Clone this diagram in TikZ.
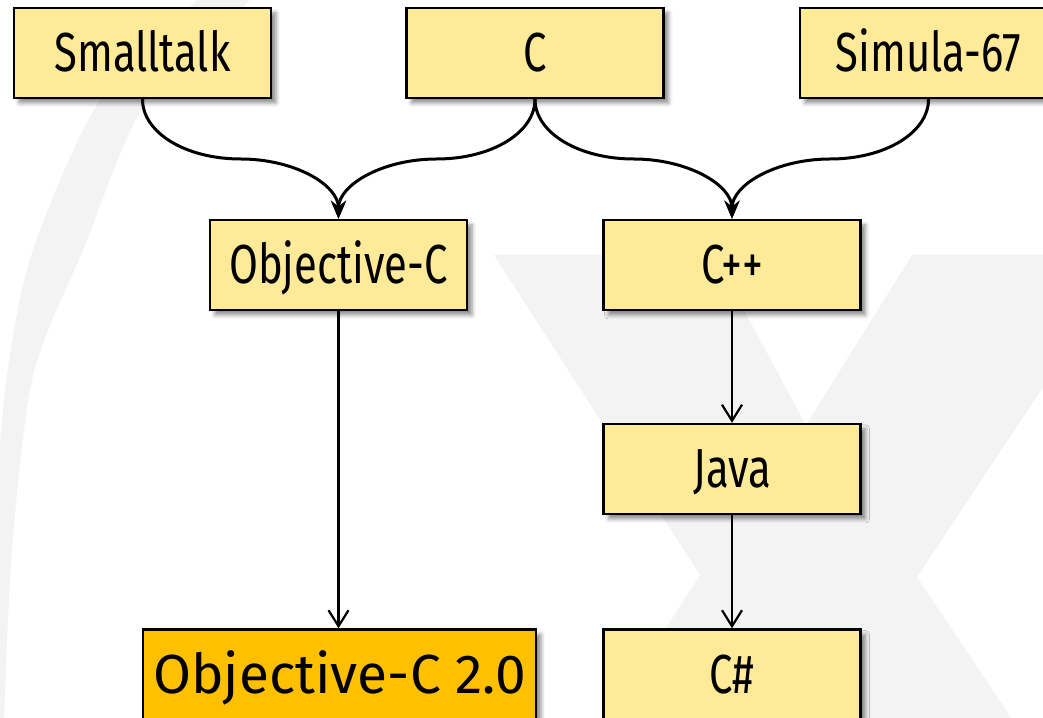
\documentclass[tikz,border=0pt]{standalone}
\usepackage{fontspec}
\setmainfont{Fira Sans}
\newfontfamily\narrowfont[FakeStretch=0.76]{Fira Sans}
\usetikzlibrary{arrows.meta,calc,shadows.blur}

\definecolor{boxyellow}{RGB}{255,234,153}
\definecolor{boxorange}{RGB}{255,192,0}
\definecolor{watermark}{RGB}{243,243,243}

\tikzset{
  langbox/.style={draw=black, line width=2.4bp, fill=boxyellow,
    minimum width=257bp, minimum height=90bp, inner sep=0pt,
    text height=38bp, text depth=0bp,
    font=\narrowfont\fontsize{55bp}{60bp}\selectfont,
    blur shadow={shadow xshift=5bp, shadow yshift=-5bp,
      shadow blur radius=4bp, shadow opacity=45}},
  newbox/.style={langbox, fill=boxorange, minimum width=393bp,
    font=\fontsize{55bp}{60bp}\selectfont},
  merge/.style={line width=3bp, -{Stealth[length=18bp,width=15bp,inset=6bp]}},
  follow/.style={line width=2.2bp, -{Straight Barb[length=16bp,width=20bp]}},
}

\begin{document}
\begin{tikzpicture}[x=1bp,y=1bp]
\useasboundingbox (0,0) rectangle (1043,718);
\clip (0,0) rectangle (1043,718);

% faint logo in the background: a large X and the arc of a ring
\fill[watermark] (494,463) -- (714,463) -- (806,293) -- (912,463) -- (1131,463)
  -- (917,141) -- (1131,-179) -- (912,-179) -- (806,-9) -- (714,-179)
  -- (494,-179) -- (700,143) -- cycle;
\fill[watermark] plot[smooth] coordinates {(207,730) (197,718) (100,618) (33,468) (7,342) (-8,168) (-15,-5)}
  -- plot[smooth] coordinates {(4,-5) (12,168) (33,342) (83,468) (147,618) (250,718) (262,730)} -- cycle;

% languages
\node[langbox] (st)   at (142.5,665) {Smalltalk};
\node[langbox] (c)    at (535,665)   {C};
\node[langbox] (sim)  at (928.5,665) {Simula-67};
\node[langbox] (objc) at (338.5,453) {Objective-C};
\node[langbox] (cpp)  at (732,453)   {C++};
\node[langbox] (java) at (732,249)   {Java};
\node[langbox] (cs)   at (732,43.5)  {C\#};
\node[newbox]  (objc2) at (339.5,43.5) {Objective-C 2.0};

% two parents merging into one child
\draw[merge] (st.south) .. controls +(0,-34) and +(-54,0) .. ($(st.south)!.5!(objc.north)$)
  .. controls +(54,0) and +(0,34) .. (objc.north);
\draw[merge] (c.south) .. controls +(0,-34) and +(54,0) .. ($(c.south)!.5!(objc.north)$)
  .. controls +(-54,0) and +(0,34) .. (objc.north);
\draw[merge] (c.south) .. controls +(0,-34) and +(-54,0) .. ($(c.south)!.5!(cpp.north)$)
  .. controls +(54,0) and +(0,34) .. (cpp.north);
\draw[merge] (sim.south) .. controls +(0,-34) and +(54,0) .. ($(sim.south)!.5!(cpp.north)$)
  .. controls +(-54,0) and +(0,34) .. (cpp.north);

% straight descent
\draw[follow] (objc.south) -- (objc.south |- objc2.north);
\draw[follow] (cpp.south) -- (java.north);
\draw[follow] (java.south) -- (cs.north);
\end{tikzpicture}
\end{document}
